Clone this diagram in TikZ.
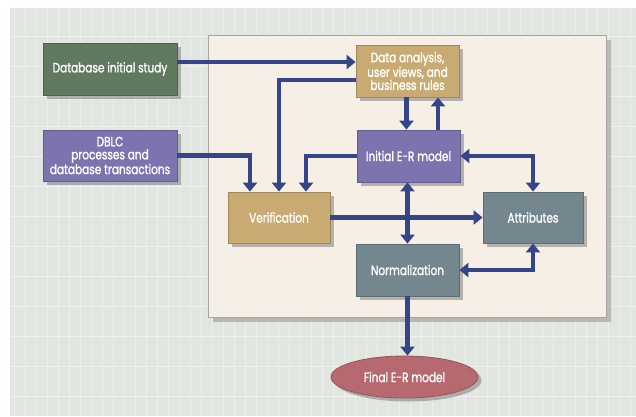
\documentclass[tikz,border=0pt]{standalone}
\usepackage{fontspec}
\setmainfont{Poppins}[FakeStretch=0.78, FakeBold=1.3]
\usetikzlibrary{arrows.meta,shapes.geometric,shadows}

\definecolor{bggrid}{HTML}{E1E6E1}
\definecolor{panelc}{HTML}{F6EFE6}
\definecolor{greenbox}{HTML}{61795F}
\definecolor{purplebox}{HTML}{7B74AF}
\definecolor{tanbox}{HTML}{C9AA72}
\definecolor{graybox}{HTML}{74868E}
\definecolor{rosebox}{HTML}{B66A70}
\definecolor{flow}{HTML}{34458A}

\tikzset{
  stepbox/.style={rectangle, fill=#1, draw=#1!80!black, line width=0.8pt,
    text=white, align=center, font=\fontsize{13.5}{13}\selectfont,
    inner sep=2pt,
    drop shadow={shadow xshift=3.5pt, shadow yshift=-3.5pt, opacity=0.45, fill=black!60}},
  flowarrow/.style={draw=flow, line width=4.6pt,
    -{Triangle[length=9pt,width=14pt]}},
  flowboth/.style={draw=flow, line width=4.6pt,
    {Triangle[length=9pt,width=14pt]}-{Triangle[length=9pt,width=14pt]}},
}

\begin{document}
\begin{tikzpicture}[x=1pt,y=-1pt]
  % page and patterned backdrop
  \fill[white] (0,0) rectangle (636,416);
  \useasboundingbox (0,0) rectangle (636,416);
  \fill[bggrid] (10,8) rectangle (636,416);
  \begin{scope}
    \clip (10,8) rectangle (636,416);
    \foreach \x in {14,25,...,636}
      \draw[white, opacity=0.35, line width=0.7pt] (\x,8) -- (\x,416);
    \foreach \y in {36,66,...,416}
      \draw[white, opacity=0.5, line width=0.9pt] (10,\y) -- (636,\y);
  \end{scope}

  % cream working panel
  \fill[black!45, opacity=0.5] (213,40) rectangle (611,322);
  \fill[panelc] (208,35) rectangle (606,317);
  \draw[black!35, line width=0.6pt] (208,35) rectangle (606,317);

  % process boxes
  \node[stepbox=greenbox, minimum width=134pt, minimum height=52pt] (db) at (110,69) {Database initial study};
  \node[stepbox=purplebox, minimum width=134pt, minimum height=51pt] (dblc) at (110,155.5) {DBLC\\processes and\\database transactions};
  \node[stepbox=tanbox, minimum width=103pt, minimum height=52pt] (da) at (407.5,71) {Data analysis,\\user views, and\\business rules};
  \node[stepbox=purplebox, minimum width=103pt, minimum height=52pt] (ier) at (408.5,156) {Initial E-R model};
  \node[stepbox=tanbox, minimum width=102pt, minimum height=51pt] (ver) at (279,217.5) {Verification};
  \node[stepbox=graybox, minimum width=100pt, minimum height=51pt] (att) at (533,217.5) {Attributes};
  \node[stepbox=graybox, minimum width=103pt, minimum height=52pt] (norm) at (407.5,270) {Normalization};
  \node[stepbox=rosebox, ellipse, minimum width=147pt, minimum height=42pt, inner sep=0pt] (fin) at (404.5,377) {Final E-R model};

  % connectors
  \draw[flowarrow] ([yshift=7pt]db.east) -- ([yshift=7pt]db.east -| da.west);
  \draw[flowarrow] ([yshift=-9pt]da.west) -| (ver.north);
  \draw[flowarrow] (dblc.east) -| ([xshift=-29pt]ver.north);
  \draw[flowarrow] (ier.west) -| ([xshift=27pt]ver.north);
  \draw[flowarrow] ([xshift=-1pt]da.south) -- ([xshift=-1pt]da.south |- ier.north);
  \draw[flowarrow] ([xshift=29.5pt]ier.north) -- ([xshift=29.5pt]ier.north |- da.south);
  \draw[flowboth] (ier.east) -| (att.north);
  \draw[flowarrow] (ver.east) -- (att.west);
  \draw[flowboth] ([xshift=-1pt]ier.south) -- ([xshift=-1pt]ier.south |- norm.north);
  \draw[flowboth] (norm.east) -| (att.south);
  \draw[flowarrow] (norm.south) -- (norm.south |- fin.north);
\end{tikzpicture}
\end{document}
